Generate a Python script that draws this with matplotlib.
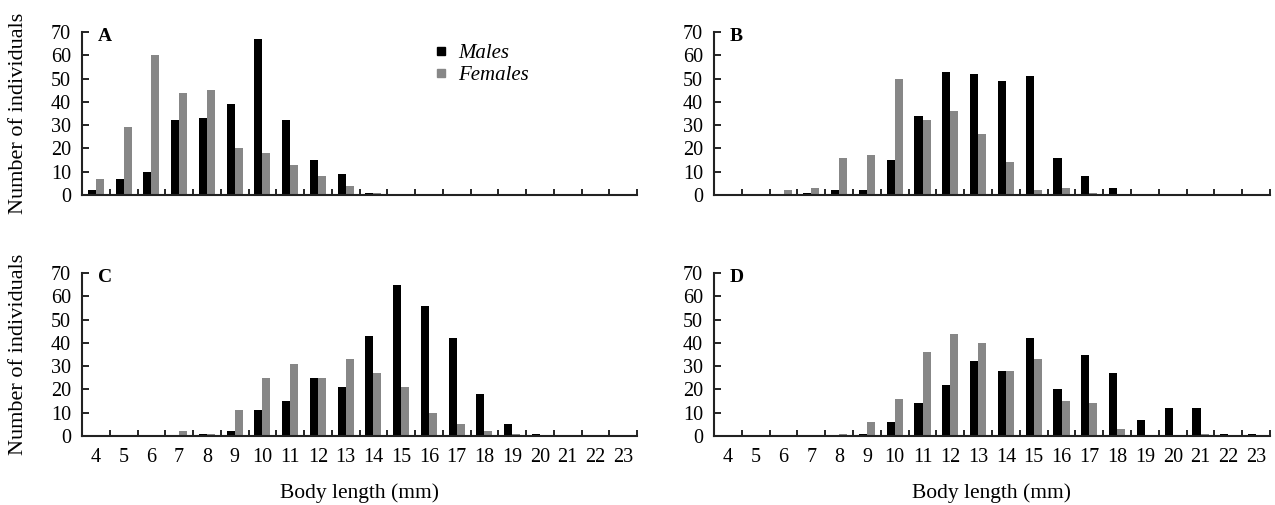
import numpy as np
import matplotlib
matplotlib.use("Agg")
import matplotlib.pyplot as plt
from matplotlib.lines import Line2D

plt.rcParams['font.family'] = ['Liberation Serif', 'DejaVu Serif']

# body length classes (mm)
lengths = list(range(4, 24))
tick_labels = [str(v) for v in lengths]

# counts per class
males_A = [2, 7, 10, 32, 33, 39, 67, 32, 15, 9, 1, 0, 0, 0, 0, 0, 0, 0, 0, 0]
females_A = [7, 29, 60, 44, 45, 20, 18, 13, 8, 4, 1, 0, 0, 0, 0, 0, 0, 0, 0, 0]
males_B = [0, 0, 0, 1, 2, 2, 15, 34, 53, 52, 49, 51, 16, 8, 3, 0, 0, 0, 0, 0]
females_B = [0, 0, 2, 3, 16, 17, 50, 32, 36, 26, 14, 2, 3, 1, 0, 0, 0, 0, 0, 0]
males_C = [0, 0, 0, 0, 1, 2, 11, 15, 25, 21, 43, 65, 56, 42, 18, 5, 1, 0, 0, 0]
females_C = [0, 0, 0, 2, 1, 11, 25, 31, 25, 33, 27, 21, 10, 5, 2, 1, 0, 0, 0, 0]
males_D = [0, 0, 0, 0, 0, 1, 6, 14, 22, 32, 28, 42, 20, 35, 27, 7, 12, 12, 1, 1]
females_D = [0, 0, 0, 0, 1, 6, 16, 36, 44, 40, 28, 33, 15, 14, 3, 0, 0, 1, 0, 0]

# panel boxes in pixels: left, top, right, bottom
panels = [
    ('A', males_A, females_A, [82, 32, 637, 195]),
    ('B', males_B, females_B, [714, 32, 1270, 195]),
    ('C', males_C, females_C, [82, 273, 637, 436]),
    ('D', males_D, females_D, [714, 273, 1270, 436]),
]

W, H = 1275, 505
fig = plt.figure(figsize=(W / 100, H / 100), dpi=100)

x = np.array(lengths)
bw = 0.29
GRAY = '#878787'
FS = 14.5

axes = {}
for name, m, f, (x0, y0, x1, y1) in panels:
    ax = fig.add_axes([x0 / W, 1 - y1 / H, (x1 - x0) / W, (y1 - y0) / H])
    axes[name] = ax
    ax.bar(x - bw, m, width=bw, align='edge', color='black', label='Males')
    ax.bar(x, f, width=bw, align='edge', color=GRAY, label='Females')
    ax.set_xlim(3.5, 23.5)
    ax.set_ylim(0, 70)
    ax.set_yticks(range(0, 71, 10))
    ax.spines['top'].set_visible(False)
    ax.spines['right'].set_visible(False)
    ax.spines['left'].set_linewidth(1.5)
    ax.spines['bottom'].set_linewidth(1.5)
    ax.spines['left'].set_color('#222222')
    ax.spines['bottom'].set_color('#222222')
    ax.tick_params(axis='y', direction='in', length=5, width=1.2, labelsize=FS, pad=8)
    # tick marks between classes, labels at class centres
    ax.set_xticks(x + 0.5, minor=True)
    ax.set_xticks(x)
    ax.tick_params(axis='x', which='minor', direction='in', length=4, width=1.2)
    ax.tick_params(axis='x', which='major', length=0, labelsize=FS, pad=9)
    if name in ('A', 'B'):
        ax.set_xticklabels([])
    else:
        ax.set_xticklabels(tick_labels)
        ax.set_xlabel('Body length (mm)', fontsize=15.5)
        ax.xaxis.set_label_coords(0.5, -0.29)
    if name in ('A', 'C'):
        ax.set_ylabel('Number of individuals', fontsize=16)
        ax.yaxis.set_label_coords(-0.097, 0.5)
    ax.text(0.028, 1.025, name, transform=ax.transAxes, fontsize=14,
            fontweight='bold', va='top', ha='left')

handles = [Line2D([], [], marker='s', linestyle='none', color='black', markersize=5.5),
           Line2D([], [], marker='s', linestyle='none', color=GRAY, markersize=5.5)]
axes['A'].legend(handles, ['Males', 'Females'], loc='upper left',
                 bbox_to_anchor=(0.61, 1.02), frameon=False,
                 prop={'style': 'italic', 'size': 15},
                 handlelength=0.6, handletextpad=0.5, labelspacing=0.12,
                 borderpad=0.2)

fig.savefig('out.png', dpi=100)
